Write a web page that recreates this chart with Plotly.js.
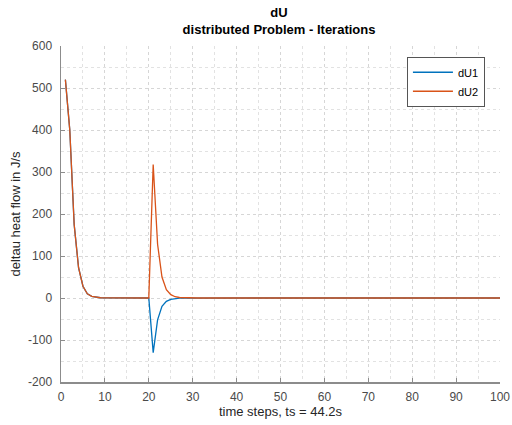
<!DOCTYPE html>
<html><head><meta charset="utf-8">
<script src="https://cdn.plot.ly/plotly-3.0.1.min.js"></script>
<style>html,body{margin:0;padding:0;background:#fff}#chart{width:512px;height:425px}</style>
</head><body><div id="chart"></div>
<script>
const timeSteps = [];
for (let i = 1; i <= 100; i++) timeSteps.push(i);
const dU1Head = [520, 400, 175, 72, 28, 10, 4, 1.5, 0.6, 0.2, 0.1, 0.04, 0.02, 0.01, 0, 0, 0, 0, 0, 0,
  -130, -52, -20, -8, -3.2, -1.3, -0.5, -0.2, -0.08, -0.03];
const dU2Head = [520, 400, 175, 72, 28, 10, 4, 1.5, 0.6, 0.2, 0.1, 0.04, 0.02, 0.01, 0, 0, 0, 0, 0, 0,
  318, 128, 50, 20, 8, 3, 1.2, 0.5, 0.2, 0.08];
const dU1 = dU1Head.concat(new Array(100 - dU1Head.length).fill(0));
const dU2 = dU2Head.concat(new Array(100 - dU2Head.length).fill(0));
const seriesNames = ['dU1', 'dU2'];
const yTickVals = [-200, -100, 0, 100, 200, 300, 400, 500, 600];
const yTickText = ['-200', '-100', '0', '100', '200', '300', '400', '500', '600'];

const font = 'Liberation Sans, Arial, sans-serif';
const axisCommon = {
  showline: true, linecolor: '#8c8c8c', linewidth: 1.5, mirror: false,
  ticks: 'inside', ticklen: 4, tickcolor: '#8c8c8c', tickwidth: 1,
  showgrid: true, gridcolor: '#d6d6d6', griddash: 'dot', gridwidth: 1,
  zeroline: false, tickfont: {family: font, size: 12, color: '#4a4a4a'},
  minor: {showgrid: true, gridcolor: '#e2e2e2', griddash: 'dot', gridwidth: 1, ticks: ''}
};
const data = [
  {x: timeSteps, y: dU1, name: seriesNames[0], type: 'scatter', mode: 'lines', line: {color: '#0072BD', width: 1.3}},
  {x: timeSteps, y: dU2, name: seriesNames[1], type: 'scatter', mode: 'lines', line: {color: '#D95319', width: 1.3}}
];
const layout = {
  width: 512, height: 425,
  margin: {l: 61, r: 12, t: 46, b: 43},
  paper_bgcolor: '#fff', plot_bgcolor: '#fff',
  title: {text: '<b>dU</b><br><b>distributed Problem - Iterations</b>', font: {family: font, size: 13, color: '#000'},
    x: 0.545, xanchor: 'center', yref: 'container', y: 0.96, yanchor: 'middle'},
  xaxis: Object.assign({}, axisCommon, {range: [0, 100], dtick: 10, ticklabelstandoff: 3,
    minor: Object.assign({}, axisCommon.minor, {dtick: 5}),
    title: {text: 'time steps, ts = 44.2s', font: {family: font, size: 13, color: '#262626'}, standoff: 3}}),
  yaxis: Object.assign({}, axisCommon, {range: [-200, 600], tickmode: 'array', tickvals: yTickVals, ticktext: yTickText,
    ticklabelstandoff: 5,
    minor: Object.assign({}, axisCommon.minor, {tickmode: 'linear', tick0: -200, dtick: 50}),
    title: {text: 'deltau heat flow in J/s', font: {family: font, size: 13, color: '#262626'}, standoff: 4}}),
  showlegend: true,
  legend: {x: 0.788, y: 0.968, xanchor: 'left', yanchor: 'top', bgcolor: '#fff', bordercolor: '#555', borderwidth: 1,
    font: {family: font, size: 11, color: '#000'}, tracegroupgap: 0, itemwidth: 40}
};
Plotly.newPlot('chart', data, layout, {displayModeBar: false, staticPlot: true});
</script></body></html>
